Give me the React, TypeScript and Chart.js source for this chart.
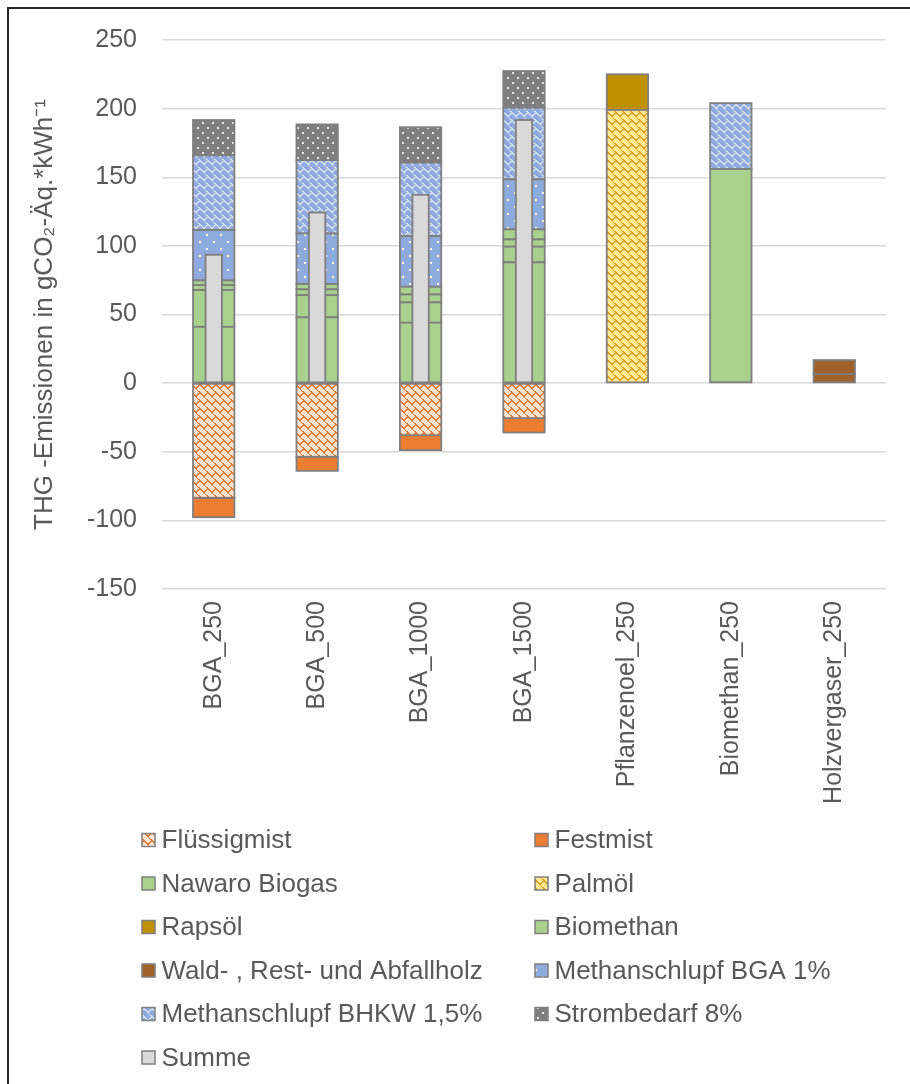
import React, { useEffect, useRef } from "react";
import { Chart, registerables } from "chart.js";

Chart.register(...registerables);

// Categories on the x axis
const categories = [
  "BGA_250",
  "BGA_500",
  "BGA_1000",
  "BGA_1500",
  "Pflanzenoel_250",
  "Biomethan_250",
  "Holzvergaser_250",
];

// Emission shares in gCO2-eq per kWh (stacked, bottom-up)
const fluessigmist = [-83.5, -53.7, -37.9, -25.5, null, null, null];
const festmist = [-14.2, -10.2, -10.9, -10.5, null, null, null];
// Nawaro Biogas is shown as four stacked parts
const nawaroBiogasA = [41.0, 47.9, 44.0, 88.0, null, null, null];
const nawaroBiogasB = [26.8, 16.2, 14.8, 11.4, null, null, null];
const nawaroBiogasC = [3.6, 4.2, 5.8, 5.3, null, null, null];
const nawaroBiogasD = [3.4, 3.9, 5.6, 7.3, null, null, null];
const palmoel = [null, null, null, null, 199, null, null];
const rapsoel = [null, null, null, null, 26, null, null];
const biomethan = [null, null, null, null, null, 156, null];
// Wald-, Rest- und Abfallholz is shown as two stacked parts
const holzA = [null, null, null, null, null, null, 6.6];
const holzB = [null, null, null, null, null, null, 10.2];
const methanschlupfBGA = [36.7, 36.8, 36.9, 36.5, null, null, null];
const methanschlupfBHKW = [54.5, 53.5, 53.5, 52.2, null, 48, null];
const strombedarf = [25.7, 26.0, 25.8, 26.7, null, null, null];
const summe = [93.5, 124.3, 137.2, 191.7, null, null, null];

// Value axis
const yMin = -150;
const yMax = 250;
const yStep = 50;

const legendLabels = [
  "Flüssigmist",
  "Festmist",
  "Nawaro Biogas",
  "Palmöl",
  "Rapsöl",
  "Biomethan",
  "Wald- , Rest- und Abfallholz",
  "Methanschlupf BGA 1%",
  "Methanschlupf BHKW 1,5%",
  "Strombedarf 8%",
  "Summe",
];

const FONT = '"Liberation Sans", Arial, sans-serif';
const TEXT = "#595959";
const OUTLINE = "#7f7f7f";

// 8x8 wave bitmap used for the hatched fills
const WAVE = [
  "#......#",
  "##....##",
  ".##..##.",
  "..####..",
  "...##...",
  "....#...",
  ".....#..",
  "......##",
];

function wavePattern(ctx: CanvasRenderingContext2D, bg: string, fg: string) {
  const c = document.createElement("canvas");
  c.width = WAVE[0].length;
  c.height = WAVE.length;
  const g = c.getContext("2d")!;
  g.fillStyle = bg;
  g.fillRect(0, 0, c.width, c.height);
  g.fillStyle = fg;
  WAVE.forEach((row, y) => {
    for (let x = 0; x < row.length; x++) if (row[x] === "#") g.fillRect(x, y, 1, 1);
  });
  return ctx.createPattern(c, "repeat")!;
}

function dotPattern(
  ctx: CanvasRenderingContext2D,
  bg: string,
  fg: string,
  w: number,
  h: number,
  dots: number[][]
) {
  const c = document.createElement("canvas");
  c.width = w;
  c.height = h;
  const g = c.getContext("2d")!;
  g.fillStyle = bg;
  g.fillRect(0, 0, w, h);
  g.fillStyle = fg;
  dots.forEach(([x, y]) => g.fillRect(x, y, 2, 2));
  return ctx.createPattern(c, "repeat")!;
}

export default function App() {
  const canvasRef = useRef<HTMLCanvasElement>(null);

  useEffect(() => {
    const canvas = canvasRef.current!;
    const ctx = canvas.getContext("2d")!;

    const fills = {
      fluessig: wavePattern(ctx, "#fbe3d2", "#e2762c"),
      fest: "#ed7d31",
      nawaro: "#a9d18e",
      palm: wavePattern(ctx, "#ffe58f", "#d6a41c"),
      raps: "#bf9000",
      biomethan: "#a9d18e",
      holz: "#a0612b",
      bga: dotPattern(ctx, "#8faadc", "#ffffff", 14, 14, [[3, 3], [10, 10]]),
      bhkw: wavePattern(ctx, "#8faadc", "#d3def3"),
      strom: dotPattern(ctx, "#7f7f7f", "#e8e8e8", 10, 10, [[2, 2], [7, 7]]),
      summe: "#d9d9d9",
    };

    const legendFills = [
      fills.fluessig,
      fills.fest,
      fills.nawaro,
      fills.palm,
      fills.raps,
      fills.biomethan,
      fills.holz,
      fills.bga,
      fills.bhkw,
      fills.strom,
      fills.summe,
    ];

    const bar = (label: string, data: (number | null)[], fill: any) => ({
      label,
      data,
      backgroundColor: fill,
      borderWidth: 0,
      stack: "anteile",
      grouped: false,
      barPercentage: 0.4,
      categoryPercentage: 1,
    });

    const datasets: any[] = [
      bar("Flüssigmist", fluessigmist, fills.fluessig),
      bar("Festmist", festmist, fills.fest),
      bar("Nawaro Biogas", nawaroBiogasA, fills.nawaro),
      bar("Nawaro Biogas", nawaroBiogasB, fills.nawaro),
      bar("Nawaro Biogas", nawaroBiogasC, fills.nawaro),
      bar("Nawaro Biogas", nawaroBiogasD, fills.nawaro),
      bar("Palmöl", palmoel, fills.palm),
      bar("Rapsöl", rapsoel, fills.raps),
      bar("Biomethan", biomethan, fills.biomethan),
      bar("Wald- , Rest- und Abfallholz", holzA, fills.holz),
      bar("Wald- , Rest- und Abfallholz", holzB, fills.holz),
      bar("Methanschlupf BGA 1%", methanschlupfBGA, fills.bga),
      bar("Methanschlupf BHKW 1,5%", methanschlupfBHKW, fills.bhkw),
      bar("Strombedarf 8%", strombedarf, fills.strom),
      {
        label: "Summe",
        data: summe,
        backgroundColor: fills.summe,
        borderWidth: 0,
        stack: "summe",
        grouped: false,
        barPercentage: 0.158,
        categoryPercentage: 1,
        order: -1,
      },
    ];

    // Outline every segment with a line centred on its edge
    const outlinePlugin = {
      id: "segmentOutline",
      afterDatasetDraw(chart: any, args: any) {
        const c = chart.ctx as CanvasRenderingContext2D;
        const ds = chart.data.datasets[args.index];
        c.save();
        c.strokeStyle = OUTLINE;
        c.lineWidth = 1.8;
        args.meta.data.forEach((el: any, i: number) => {
          if (ds.data[i] == null) return;
          const { x, y, base, width } = el.getProps(["x", "y", "base", "width"], true);
          if (!isFinite(y) || !isFinite(base)) return;
          c.strokeRect(x - width / 2, Math.min(y, base), width, Math.abs(base - y));
        });
        c.restore();
      },
    };

    // Two-column legend below the category labels
    const legendPlugin = {
      id: "twoColumnLegend",
      afterDraw(chart: any) {
        const c = chart.ctx as CanvasRenderingContext2D;
        const colX = [142, 535];
        const rowY0 = 840;
        const rowStep = 43.5;
        const box = 13;
        c.save();
        c.font = `26px ${FONT}`;
        c.textBaseline = "middle";
        c.textAlign = "left";
        legendLabels.forEach((label, i) => {
          const x = colX[i % 2];
          const y = rowY0 + Math.floor(i / 2) * rowStep;
          c.fillStyle = legendFills[i] as any;
          c.fillRect(x, y - box / 2, box, box);
          c.strokeStyle = OUTLINE;
          c.lineWidth = 1.5;
          c.strokeRect(x, y - box / 2, box, box);
          c.fillStyle = TEXT;
          c.fillText(label, x + 19.5, y + 1);
        });
        c.restore();
      },
    };

    const chart = new Chart(canvas, {
      type: "bar",
      data: { labels: categories, datasets },
      options: {
        animation: false,
        responsive: false,
        devicePixelRatio: 1,
        layout: { padding: { top: 40, right: 24, bottom: 0, left: 0 } },
        plugins: {
          legend: { display: false },
          tooltip: { enabled: false },
        },
        scales: {
          x: {
            stacked: true,
            offset: true,
            grid: { display: false },
            border: { display: false },
            ticks: {
              autoSkip: false,
              minRotation: 90,
              maxRotation: 90,
              padding: 4,
              color: TEXT,
              font: { family: FONT, size: 25 },
            },
            afterFit: (s: any) => {
              s.height = 495;
            },
          },
          y: {
            stacked: true,
            min: yMin,
            max: yMax,
            ticks: {
              stepSize: yStep,
              padding: 25,
              color: TEXT,
              font: { family: FONT, size: 25 },
            },
            grid: { color: "#d9d9d9", lineWidth: 1.5, drawTicks: false },
            border: { display: false },
            title: {
              display: true,
              text: "THG -Emissionen in gCO₂-Äq.*kWh⁻¹",
              color: TEXT,
              font: { family: FONT, size: 26, lineHeight: 1.2 },
              padding: { top: 29, bottom: 0 },
            },
            afterFit: (s: any) => {
              s.width = 162;
            },
          },
        },
      } as any,
      plugins: [outlinePlugin, legendPlugin],
    });

    return () => chart.destroy();
  }, []);

  return (
    <div
      style={{
        position: "fixed",
        left: 0,
        top: 0,
        width: 910,
        height: 1084,
        background: "#ffffff",
        overflow: "hidden",
      }}
    >
      <div
        style={{
          position: "absolute",
          left: 7,
          top: 7,
          right: 0,
          bottom: 0,
          borderLeft: "2px solid #262626",
          borderTop: "2px solid #262626",
        }}
      />
      <canvas
        ref={canvasRef}
        width={910}
        height={1084}
        style={{ position: "absolute", left: 0, top: 0, width: 910, height: 1084 }}
      />
    </div>
  );
}
